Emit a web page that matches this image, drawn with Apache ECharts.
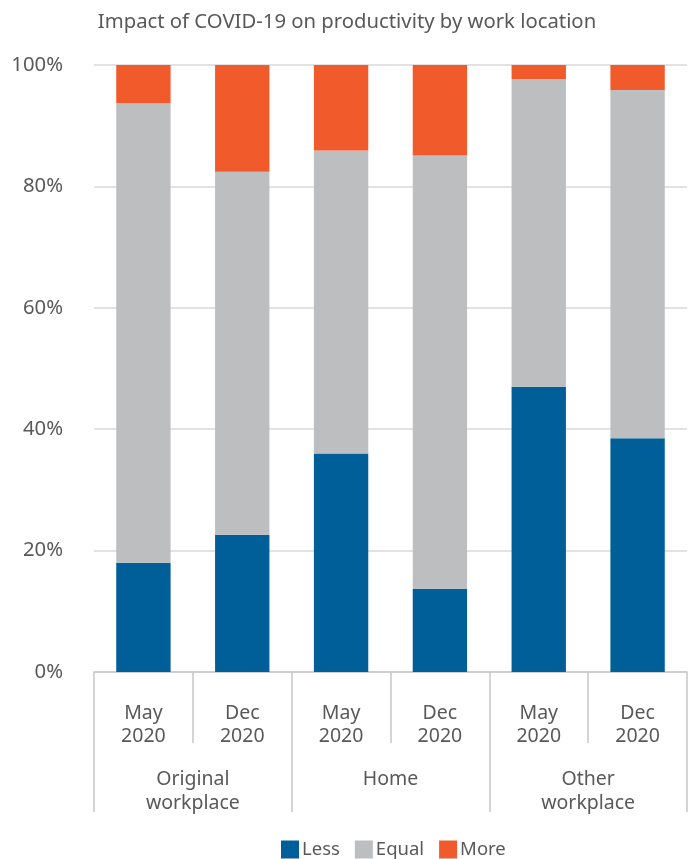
<!DOCTYPE html>
<html>
<head>
<meta charset="utf-8">
<script src="https://cdn.jsdelivr.net/npm/echarts@6/dist/echarts.min.js"></script>
<style>
  html, body { margin: 0; padding: 0; background: #ffffff; }
  #chart { width: 694px; height: 859px; }
</style>
</head>
<body>
<div id="chart"></div>
<script>
// Survey periods (inner axis level) and work locations (outer axis level)
const periods = ['May\n2020', 'Dec\n2020', 'May\n2020', 'Dec\n2020', 'May\n2020', 'Dec\n2020'];
const locations = ['Original\nworkplace', 'Home', 'Other\nworkplace'];

// Share of respondents per productivity answer, in percent
const lessValues  = [18.0, 22.6, 36.0, 13.7, 47.0, 38.5];
const equalValues = [75.7, 59.8, 49.9, 71.4, 50.7, 57.4];
const moreValues  = [6.3, 17.6, 14.1, 14.9, 2.3, 4.1];

const yTicks = [0, 20, 40, 60, 80, 100];

const FONT = '"Noto Sans", "Open Sans", sans-serif';
const TEXT = '#595959';
const RULE = '#c8c8c8';

const chart = echarts.init(document.getElementById('chart'), null, { renderer: 'canvas' });

function stackSeries(name, values, color) {
  return {
    name: name,
    type: 'bar',
    stack: 'total',
    xAxisIndex: 0,
    barWidth: '55%',
    itemStyle: { color: color },
    emphasis: { disabled: true },
    data: values
  };
}

chart.setOption({
  animation: false,
  textStyle: { fontFamily: FONT },
  title: {
    text: 'Impact of COVID-19 on productivity by work location',
    left: 'center',
    top: 7,
    textStyle: { fontFamily: FONT, fontSize: 20.3, fontWeight: 'normal', color: TEXT }
  },
  legend: {
    bottom: -5,
    left: 276,
    itemWidth: 18,
    itemHeight: 18,
    itemGap: 15,
    icon: 'rect',
    textStyle: { fontFamily: FONT, fontSize: 18.5, color: TEXT, padding: [0, 0, 0, -2] },
    data: ['Less', 'Equal', 'More']
  },
  grid: { left: 94, right: 7, top: 65, bottom: 187, containLabel: false },
  xAxis: [
    {
      type: 'category',
      data: periods,
      position: 'bottom',
      axisLine: { show: true, lineStyle: { color: RULE, width: 1.5 } },
      axisTick: { show: true, interval: 0, length: 71, lineStyle: { color: RULE, width: 1.5 } },
      axisLabel: {
        interval: 0, margin: 30, color: TEXT, fontFamily: FONT, fontSize: 19.5, lineHeight: 23
      }
    },
    {
      type: 'category',
      data: locations,
      position: 'bottom',
      axisLine: { show: false },
      axisTick: { show: true, interval: 0, length: 140, lineStyle: { color: RULE, width: 1.5 } },
      axisLabel: {
        interval: 0, margin: 95, color: TEXT, fontFamily: FONT, fontSize: 19.5, lineHeight: 24,
        verticalAlign: 'top'
      }
    }
  ],
  yAxis: {
    type: 'value',
    min: yTicks[0],
    max: yTicks[yTicks.length - 1],
    interval: yTicks[1] - yTicks[0],
    axisLine: { show: false },
    axisTick: { show: false },
    splitLine: { show: true, lineStyle: { color: '#d9d9d9', width: 1.5 } },
    axisLabel: {
      margin: 31, color: TEXT, fontFamily: FONT, fontSize: 20.3,
      formatter: function (v) { return v + '%'; }
    }
  },
  series: [
    stackSeries('Less', lessValues, '#005f99'),
    stackSeries('Equal', equalValues, '#bdbec0'),
    stackSeries('More', moreValues, '#f15a2b')
  ]
});
</script>
</body>
</html>
